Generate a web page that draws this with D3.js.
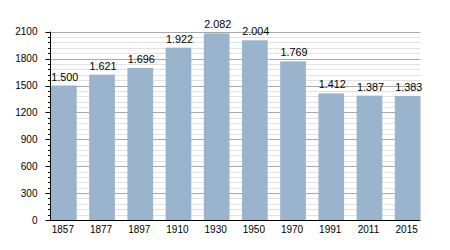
<!DOCTYPE html>
<html><head><meta charset="utf-8">
<script src="https://cdn.jsdelivr.net/npm/d3@7"></script>
<style>body{margin:0;background:#fff}svg{display:block}text{font-family:"Liberation Sans",Arial,sans-serif;font-size:10px;fill:#000}</style>
</head><body><svg id="c" width="450" height="250"></svg>
<script>
const years = ["1857","1877","1897","1910","1930","1950","1970","1991","2011","2015"];
const population = [1500,1621,1696,1922,2082,2004,1769,1412,1387,1383];
const yTicks = [0,300,600,900,1200,1500,1800,2100];

const svg = d3.select("#c");
const pL = 50, pR = 420.5, pT = 31.7, pB = 220;
const x = d3.scaleBand().domain(years).range([pL + 1, pR]).paddingInner(0.327).paddingOuter(0);
const y = d3.scaleLinear().domain([0, 2100]).range([pB, pT]);
const minor = d3.range(0, 2101, 60).filter(v => v % 300 !== 0);
const fmt = v => d3.format(",")(v).replace(/,/g, ".");
const py = v => Math.round(y(v)) + 0.5;

svg.append("g").selectAll("line").data(minor).join("line")
  .attr("x1", pL).attr("x2", pR).attr("y1", py).attr("y2", py)
  .attr("stroke", "#e2e2e2").attr("stroke-width", 1);
svg.append("g").selectAll("line").data(yTicks.filter(v => v > 0)).join("line")
  .attr("x1", pL).attr("x2", pR).attr("y1", py).attr("y2", py)
  .attr("stroke", "#a8a8a8").attr("stroke-width", 1);

svg.append("g").selectAll("rect").data(population).join("rect")
  .attr("x", (d, i) => x(years[i])).attr("width", x.bandwidth())
  .attr("y", d => y(d)).attr("height", d => pB - y(d))
  .attr("fill", "#9bb4cd");

svg.append("g").selectAll("text").data(population).join("text")
  .attr("x", (d, i) => x(years[i]) + x.bandwidth() / 2 + 1).attr("y", d => y(d) - 5)
  .attr("text-anchor", "middle").style("font-size", "10.8px").text(d => fmt(d));

const yAxis = svg.append("g").attr("transform", `translate(${pL + 0.5},0)`);
yAxis.append("line").attr("y1", pT).attr("y2", pB).attr("stroke", "#000");
yAxis.selectAll(".mj").data(yTicks).join("line").attr("class", "mj")
  .attr("x1", -5).attr("x2", 0).attr("y1", py).attr("y2", py).attr("stroke", "#000");
yAxis.selectAll(".mn").data(minor).join("line").attr("class", "mn")
  .attr("x1", -2.5).attr("x2", 0).attr("y1", py).attr("y2", py).attr("stroke", "#000");
yAxis.selectAll("text").data(yTicks).join("text")
  .attr("x", -13).attr("y", d => y(d) + 3.5).attr("text-anchor", "end").text(d => d);

const xAxis = svg.append("g");
xAxis.append("line").attr("x1", pL).attr("x2", pR).attr("y1", pB + 0.5).attr("y2", pB + 0.5).attr("stroke", "#000").attr("stroke-width", 1.2);
xAxis.selectAll("text").data(years).join("text")
  .attr("x", d => x(d) + x.bandwidth() / 2 - 1).attr("y", 233).attr("text-anchor", "middle").text(d => d);
</script></body></html>
